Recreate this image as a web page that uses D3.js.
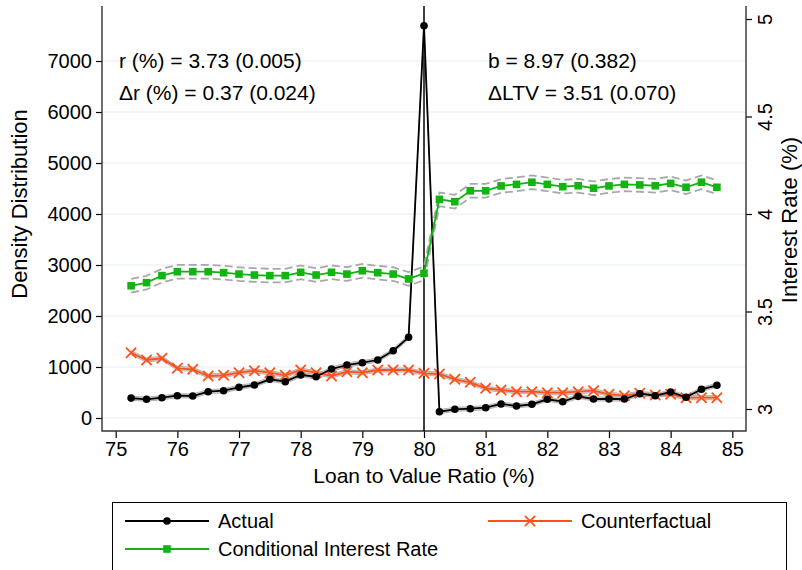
<!DOCTYPE html>
<html>
<head>
<meta charset="utf-8">
<script src="https://cdn.jsdelivr.net/npm/d3@7"></script>
<style>
  body { margin: 0; background: #fff; }
  svg text { font-family: "Liberation Sans", Arial, sans-serif; fill: #000; }
</style>
</head>
<body>
<script>
// loan to value bins (%)
var ltv = [75.25, 75.5, 75.75, 76, 76.25, 76.5, 76.75, 77, 77.25, 77.5, 77.75, 78,
  78.25, 78.5, 78.75, 79, 79.25, 79.5, 79.75, 80, 80.25, 80.5, 80.75, 81, 81.25,
  81.5, 81.75, 82, 82.25, 82.5, 82.75, 83, 83.25, 83.5, 83.75, 84, 84.25, 84.5, 84.75]

var actual = [390, 367, 398, 437, 431, 516, 535, 602, 647, 759, 712, 843,
  810, 961, 1039, 1084, 1137, 1320, 1582, 7690, 124, 171, 182, 202, 275,
  235, 269, 367, 320, 425, 373, 373, 373, 476, 437, 510, 406, 563, 641]

var counterfactual = [1280, 1137, 1171, 975, 955, 824, 837, 888, 927, 888, 837, 941,
  888, 824, 908, 888, 941, 941, 941, 876, 863, 759, 700, 582, 549,
  516, 516, 496, 496, 516, 535, 465, 437, 484, 451, 465, 398, 398, 398]

var rate = [3.632, 3.648, 3.684, 3.704, 3.704, 3.704, 3.699, 3.692, 3.687, 3.684, 3.684, 3.701,
  3.687, 3.701, 3.692, 3.709, 3.699, 3.692, 3.667, 3.696, 4.075, 4.063, 4.119, 4.119, 4.144,
  4.152, 4.163, 4.152, 4.140, 4.145, 4.132, 4.144, 4.152, 4.149, 4.145, 4.157, 4.137, 4.163, 4.137]

var densityCI = 40, rateCI = 0.035

var xTicks = [75, 76, 77, 78, 79, 80, 81, 82, 83, 84, 85]
var yLeftTicks = [0, 1000, 2000, 3000, 4000, 5000, 6000, 7000]
var yRightTicks = [3, 3.5, 4, 4.5, 5]

var notes = [
  {text: "r (%) = 3.73 (0.005)", side: "left", row: 0},
  {text: "\u0394r (%) = 0.37 (0.024)", side: "left", row: 1},
  {text: "b = 8.97 (0.382)", side: "right", row: 0},
  {text: "\u0394LTV = 3.51 (0.070)", side: "right", row: 1}
]

var cutoff = 80

var W = 802, H = 570
var plot = {left: 102, right: 746, top: 6, bottom: 431}

var svg = d3.select("body").append("svg")
  .attr("width", W).attr("height", H)

var x = d3.scaleLinear().domain([75, 85]).range([115.7, 732.3])
var yL = d3.scaleLinear().domain([0, 7000]).range([418, 61])
var yR = d3.scaleLinear().domain([3, 5]).range([409, 19])

var orange = "#ff5119", green = "#12b312"

// grid
svg.append("g").selectAll("line").data(yLeftTicks).join("line")
  .attr("x1", plot.left).attr("x2", plot.right)
  .attr("y1", d => yL(d)).attr("y2", d => yL(d))
  .attr("stroke", "#e7eef1").attr("stroke-width", 1.2)

// axes
var gx = svg.append("g")
  .attr("transform", "translate(0," + plot.bottom + ")")
  .call(d3.axisBottom(x).tickValues(xTicks).tickSize(7).tickPadding(4).tickFormat(d3.format("d")))
gx.select(".domain").remove()

var gyl = svg.append("g")
  .attr("transform", "translate(" + plot.left + ",0)")
  .call(d3.axisLeft(yL).tickValues(yLeftTicks).tickSize(6).tickPadding(4).tickFormat(d3.format("d")))
gyl.select(".domain").remove()

var gyr = svg.append("g")
  .attr("transform", "translate(" + plot.right + ",0)")
  .call(d3.axisRight(yR).tickValues(yRightTicks).tickSize(6).tickFormat(d => d))
gyr.select(".domain").remove()
gyr.selectAll("text")
  .attr("x", 0).attr("dy", 0)
  .attr("text-anchor", "middle")
  .attr("transform", "translate(21,0) rotate(-90)")
  .attr("dominant-baseline", "middle")

svg.selectAll(".tick text").style("font-size", "20px")
svg.selectAll(".tick line").attr("stroke", "#000").attr("stroke-width", 1.2)

// frame: left, bottom, right
svg.append("path")
  .attr("d", "M" + plot.left + "," + plot.top + "V" + plot.bottom + "H" + plot.right + "V" + plot.top)
  .attr("fill", "none").attr("stroke", "#333").attr("stroke-width", 1.4)

// cutoff
svg.append("line")
  .attr("x1", x(cutoff)).attr("x2", x(cutoff))
  .attr("y1", plot.top).attr("y2", plot.bottom)
  .attr("stroke", "#000").attr("stroke-width", 1.5)

// titles
svg.append("text").attr("x", (plot.left + plot.right) / 2 + 0).attr("y", 483)
  .attr("text-anchor", "middle").style("font-size", "21px")
  .text("Loan to Value Ratio (%)")
svg.append("text").attr("transform", "translate(27,204) rotate(-90)")
  .attr("text-anchor", "middle").style("font-size", "22px")
  .text("Density Distribution")
svg.append("text").attr("transform", "translate(797,220) rotate(-90)")
  .attr("text-anchor", "middle").style("font-size", "22px")
  .text("Interest Rate (%)")

// notes
svg.append("g").selectAll("text").data(notes).join("text")
  .attr("x", d => d.side == "left" ? 119 : 488)
  .attr("y", d => 68 + d.row * 32)
  .style("font-size", "21px")
  .text(d => d.text)

var rows = ltv.map((v, i) => ({ltv: v, actual: actual[i], cf: counterfactual[i], rate: rate[i]}))

var lineL = key => d3.line().x(d => x(d.ltv)).y(d => yL(d[key]))
var bandL = key => d3.area().x(d => x(d.ltv))
  .y0(d => yL(d[key] - densityCI)).y1(d => yL(d[key] + densityCI))

// confidence bands for the density series
;["cf", "actual"].forEach(function(k) {
  svg.append("path").attr("d", bandL(k)(rows))
    .attr("fill", "#cccccc").attr("stroke", "#b5b5b5").attr("stroke-width", 1)
})

// rate band, dashed
;[rateCI, -rateCI].forEach(function(off) {
  svg.append("path")
    .attr("d", d3.line().x(d => x(d.ltv)).y(d => yR(d.rate + off))(rows))
    .attr("fill", "none").attr("stroke", "#a8a8a8").attr("stroke-width", 1.8)
    .attr("stroke-dasharray", "8,4")
})

// counterfactual
svg.append("path").attr("d", lineL("cf")(rows))
  .attr("fill", "none").attr("stroke", orange).attr("stroke-width", 1.8)
var cross = d3.symbol().type(d3.symbolX).size(70)
svg.append("g").selectAll("path").data(rows).join("path")
  .attr("transform", d => "translate(" + x(d.ltv) + "," + yL(d.cf) + ")")
  .attr("d", cross).attr("fill", "none").attr("stroke", orange).attr("stroke-width", 1.8)

// actual
svg.append("path").attr("d", lineL("actual")(rows))
  .attr("fill", "none").attr("stroke", "#000").attr("stroke-width", 1.8)
svg.append("g").selectAll("circle").data(rows).join("circle")
  .attr("cx", d => x(d.ltv)).attr("cy", d => yL(d.actual)).attr("r", 3.8)
  .attr("fill", "#000")

// conditional interest rate
svg.append("path").attr("d", d3.line().x(d => x(d.ltv)).y(d => yR(d.rate))(rows))
  .attr("fill", "none").attr("stroke", green).attr("stroke-width", 1.8)
svg.append("g").selectAll("rect").data(rows).join("rect")
  .attr("x", d => x(d.ltv) - 3.8).attr("y", d => yR(d.rate) - 3.8)
  .attr("width", 7.6).attr("height", 7.6).attr("fill", green)

// legend
var legend = svg.append("g")
legend.append("rect").attr("x", 112.5).attr("y", 502.5).attr("width", 674).attr("height", 90)
  .attr("fill", "#fff").attr("stroke", "#000").attr("stroke-width", 1)

var items = [
  {label: "Actual", color: "#000", mark: "circle", x: 125, y: 521},
  {label: "Counterfactual", color: orange, mark: "x", x: 488, y: 521},
  {label: "Conditional Interest Rate", color: green, mark: "square", x: 125, y: 549}
]
items.forEach(function(it) {
  var g = legend.append("g").attr("transform", "translate(" + it.x + "," + it.y + ")")
  g.append("line").attr("x1", 0).attr("x2", 84).attr("stroke", it.color).attr("stroke-width", 1.8)
  if (it.mark == "circle") g.append("circle").attr("cx", 42).attr("r", 3.8).attr("fill", it.color)
  if (it.mark == "square") g.append("rect").attr("x", 38.2).attr("y", -3.8).attr("width", 7.6).attr("height", 7.6).attr("fill", it.color)
  if (it.mark == "x") g.append("path").attr("transform", "translate(42,0)").attr("d", cross)
    .attr("fill", "none").attr("stroke", it.color).attr("stroke-width", 1.8)
  g.append("text").attr("x", 93).attr("y", 7).style("font-size", "20px").text(it.label)
})
</script>
</body>
</html>
